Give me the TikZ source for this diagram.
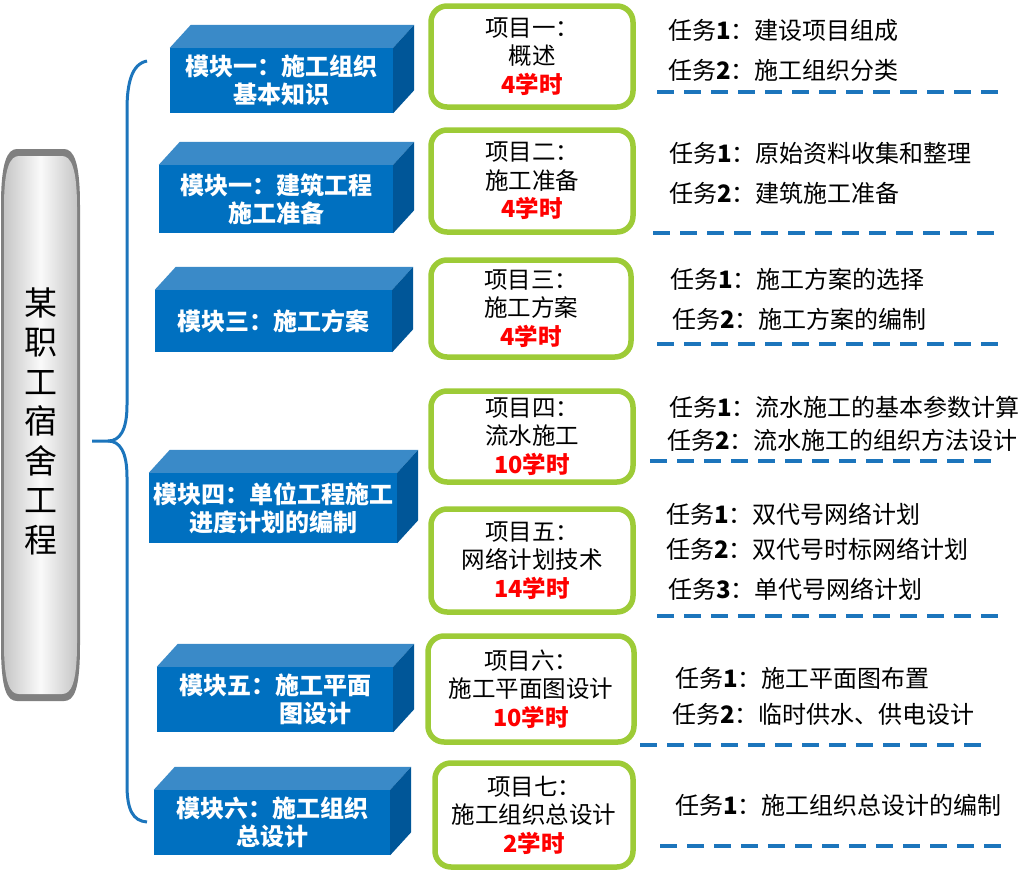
\documentclass[tikz,border=0pt]{standalone}
\usepackage{fontspec}
\setmainfont{Noto Sans CJK SC}
\usepackage{xcolor}
\usepackage{tikz}
\usetikzlibrary{calc}
\definecolor{modblue}{RGB}{0,112,192}
\definecolor{modtop}{RGB}{58,138,200}
\definecolor{modside}{RGB}{0,86,152}
\definecolor{projgreen}{RGB}{157,203,55}
\definecolor{dashblue}{RGB}{28,117,188}
\definecolor{pillarrim}{RGB}{128,128,128}

% top and right face of a module block
\newcommand{\modfaces}[1]{%
  \fill[modtop] (#1.north west) -- ++(21,-23) -- ($(#1.north east)+(21,-23)$) -- (#1.north east) -- cycle;
  \fill[modside] (#1.north east) -- ++(21,-23) -- ($(#1.south east)+(21,-23)$) -- (#1.south east) -- cycle;}

\begin{document}
\begin{tikzpicture}[x=1pt, y=-1pt,
  mod/.style={fill=modblue, text=white, inner sep=0pt, align=center,
    font=\fontsize{24}{28}\selectfont\bfseries},
  proj/.style={draw=projgreen, line width=5.5pt, rounded corners=16pt, fill=white,
    inner sep=0pt, align=center, font=\fontsize{23.5}{28.5}\selectfont},
  task/.style={anchor=west, inner sep=0pt, font=\fontsize{24}{28}\selectfont},
  sep/.style={dashblue, line width=3.5pt, dash pattern=on 17pt off 10pt},
  brace/.style={dashblue, line width=3pt}
]
\useasboundingbox (0,0) rectangle (1026,873);

% title pillar
\fill[pillarrim] (1,205) .. controls (1,163) and (7,149) .. (17,149) -- (64,149)
  .. controls (74,149) and (80,163) .. (80,205) -- (80,645)
  .. controls (80,690) and (74,701) .. (64,701) -- (17,701)
  .. controls (7,701) and (1,690) .. (1,645) -- cycle;
\shade[left color=gray!45, right color=gray!45, middle color=white!96!gray]
  (4,207) .. controls (4,168) and (10,156) .. (19,156) -- (62,156)
  .. controls (71,156) and (77,168) .. (77,207) -- (77,643)
  .. controls (77,684) and (71,694) .. (62,694) -- (19,694)
  .. controls (10,694) and (4,684) .. (4,643) -- cycle;
\node[align=center, inner sep=0pt, font=\fontsize{33}{39.5}\selectfont] (title) at (41,421)
  {某\\职\\工\\宿\\舍\\工\\程};

% brace
\draw[brace] (147,61) .. controls (131,64) and (127,85) .. (127,110) -- (127,405)
  .. controls (127,430) and (120,441) .. (108,441) -- (92,441);
\draw[brace] (108,441) .. controls (120,441) and (127,452) .. (127,477) -- (127,785)
  .. controls (127,810) and (133,821) .. (147,822);

% modules
\node[mod, minimum width=223pt, minimum height=65pt] (m1) at (281.5,80.5) {模块一：施工组织\\基本知识};
\node[mod, minimum width=234pt, minimum height=68pt] (m2) at (276,199) {模块一：建筑工程\\施工准备};
\node[mod, minimum width=237pt, minimum height=62pt] (m3) at (273.5,321) {模块三：施工方案};
\node[mod, minimum width=248pt, minimum height=70pt] (m4) at (273,508) {模块四：单位工程施工\\进度计划的编制};
\node[mod, minimum width=236pt, minimum height=65pt] (m5) at (275,699.5) {模块五：施工平面\\\hspace*{80pt}图设计};
\node[mod, minimum width=236pt, minimum height=65pt] (m6) at (272,822.5) {模块六：施工组织\\总设计};
\modfaces{m1}
\modfaces{m2}
\modfaces{m3}
\modfaces{m4}
\modfaces{m5}
\modfaces{m6}

% projects
\node[proj, minimum width=202pt, minimum height=101pt] (p1) at (532,56.5) {项目一：\\概述\\\textcolor{red}{\bfseries 4学时}};
\node[proj, minimum width=202pt, minimum height=102pt] (p2) at (532,181) {项目二：\\施工准备\\\textcolor{red}{\bfseries 4学时}};
\node[proj, minimum width=200pt, minimum height=97pt] (p3) at (531,308.5) {项目三：\\施工方案\\\textcolor{red}{\bfseries 4学时}};
\node[proj, minimum width=202pt, minimum height=91pt] (p4) at (532,436.5) {项目四：\\流水施工\\\textcolor{red}{\bfseries 10学时}};
\node[proj, minimum width=202pt, minimum height=103pt] (p5) at (532,560.5) {项目五：\\网络计划技术\\\textcolor{red}{\bfseries 14学时}};
\node[proj, minimum width=206pt, minimum height=106pt] (p6) at (531,689) {项目六：\\施工平面图设计\\\textcolor{red}{\bfseries 10学时}};
\node[proj, minimum width=198pt, minimum height=104pt] (p7) at (534,815) {项目七：\\施工组织总设计\\\textcolor{red}{\bfseries 2学时}};

% tasks
\node[task] (t11) at (668,30) {任务\textbf{1}：建设项目组成};
\node[task] (t12) at (668,70) {任务\textbf{2}：施工组织分类};
\node[task] (t21) at (669,153) {任务\textbf{1}：原始资料收集和整理};
\node[task] (t22) at (669,193) {任务\textbf{2}：建筑施工准备};
\node[task] (t31) at (670,279) {任务\textbf{1}：施工方案的选择};
\node[task] (t32) at (672,319) {任务\textbf{2}：施工方案的编制};
\node[task] (t41) at (669,407) {任务\textbf{1}：流水施工的基本参数计算};
\node[task] (t42) at (667,440) {任务\textbf{2}：流水施工的组织方法设计};
\node[task] (t51) at (666,514) {任务\textbf{1}：双代号网络计划};
\node[task] (t52) at (666,549) {任务\textbf{2}：双代号时标网络计划};
\node[task] (t53) at (668,589) {任务\textbf{3}：单代号网络计划};
\node[task] (t61) at (675,678) {任务\textbf{1}：施工平面图布置};
\node[task] (t62) at (672,714) {任务\textbf{2}：临时供水、供电设计};
\node[task] (t71) at (675,805) {任务\textbf{1}：施工组织总设计的编制};

% separators
\draw[sep] (657,92) -- (1003,92);
\draw[sep] (653,233) -- (1000,233);
\draw[sep] (657,344) -- (1003,344);
\draw[sep] (650,461) -- (1000,461);
\draw[sep] (657,616) -- (1006,616);
\draw[sep] (640,745) -- (985,745);
\draw[sep] (660,846) -- (1005,846);
\end{tikzpicture}
\end{document}
